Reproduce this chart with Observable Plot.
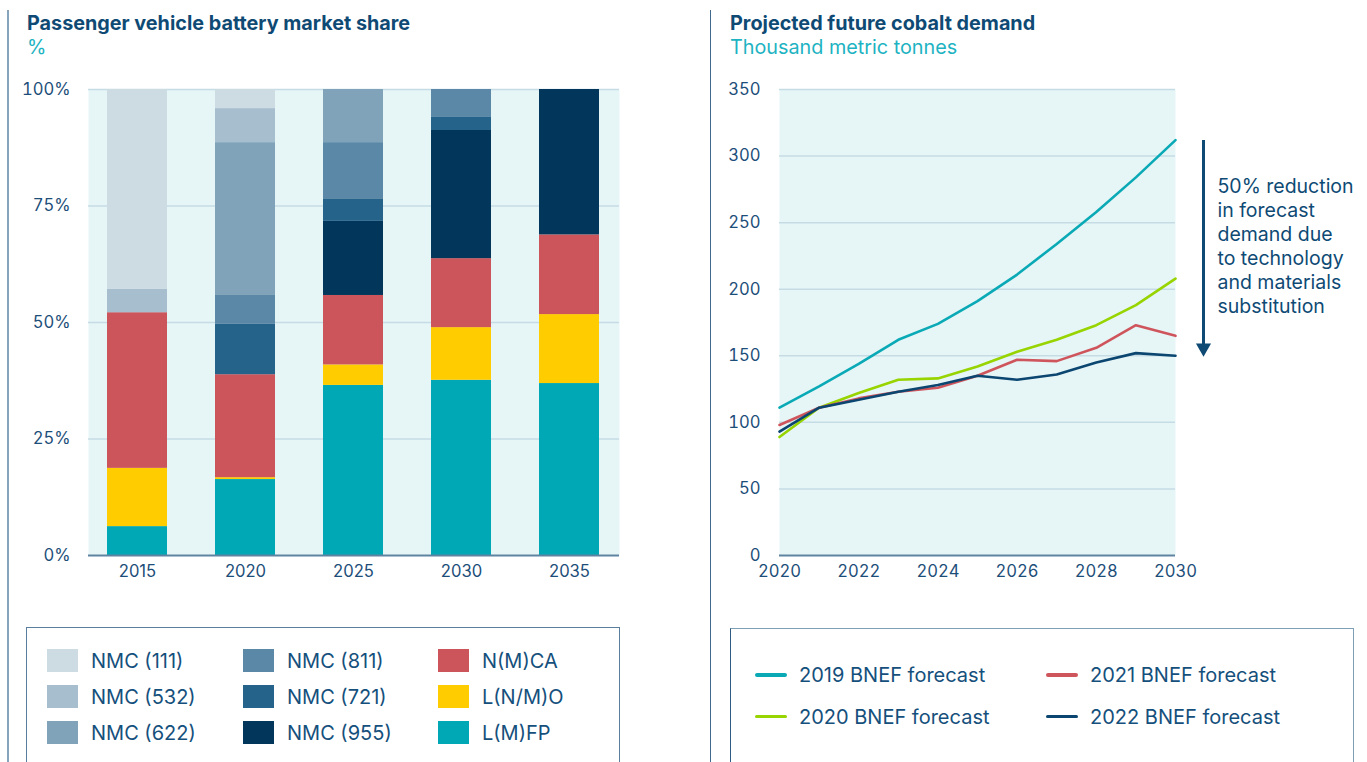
<!DOCTYPE html>
<html>
<head>
<meta charset="utf-8">
<script src="https://cdn.jsdelivr.net/npm/d3@7"></script>
<script src="https://cdn.jsdelivr.net/npm/@observablehq/plot@0.6"></script>
<style>
  html, body { margin: 0; padding: 0; background: #ffffff; }
  #root { position: relative; width: 1367px; height: 762px; overflow: hidden; font-family: Inter, "Noto Sans", sans-serif; color: #0f4a74; }
  .vline { position: absolute; top: 10px; bottom: 0; }
  .title { position: absolute; font-size: 19.8px; line-height: 24px; white-space: nowrap; }
  .title b { font-weight: 700; color: #0f4a74; display: block; }
  .title span { color: #1db3c2; display: block; }
  .chart { position: absolute; top: 70px; }
  .legendbox { position: absolute; height: 200px; box-sizing: border-box; }
  .item { position: absolute; font-size: 20px; line-height: 24px; color: #15507c; white-space: nowrap; }
  .sw { position: absolute; }
</style>
</head>
<body>
<div id="root">
  <div class="vline" style="left:7px; width:2px; background:#86a5bc;"></div>
  <div class="vline" style="left:710px; width:1px; background:#3f6a8d;"></div>
  <div class="title" style="left:27px; top:11.3px;"><b>Passenger vehicle battery market share</b><span>%</span></div>
  <div class="title" style="left:730px; top:11.3px;"><b>Projected future cobalt demand</b><span>Thousand metric tonnes</span></div>
  <div id="left" class="chart" style="left:0px;"></div>
  <div id="right" class="chart" style="left:710px;"></div>
  <div class="legendbox" style="left:26px; top:627px; width:594px; border:1.5px solid #5a7f9e;"></div>
  <div class="legendbox" style="left:730px; top:628px; width:624px; border:1.5px solid #7f9fb7; border-left-color:#2d5b82;"></div>
  <div id="legends"></div>
</div>
<script>
// ---------- Data: battery market share (%) ----------
const years = ["2015", "2020", "2025", "2030", "2035"];
const chemistries = ["L(M)FP", "L(N/M)O", "N(M)CA", "NMC (955)", "NMC (721)", "NMC (811)", "NMC (622)", "NMC (532)", "NMC (111)"];
const lfp    = [6.2, 16.3, 36.5, 37.6, 36.9];
const lnmo   = [12.5, 0.4, 4.4, 11.3, 14.8];
const nca    = [33.4, 22.1, 14.9, 14.8, 17.1];
const nmc955 = [0, 0, 15.9, 27.5, 31.2];
const nmc721 = [0, 10.8, 4.7, 2.8, 0];
const nmc811 = [0, 6.2, 12.2, 6.0, 0];
const nmc622 = [0, 32.8, 11.4, 0, 0];
const nmc532 = [5.0, 7.3, 0, 0, 0];
const nmc111 = [42.9, 4.1, 0, 0, 0];
const chemColors = ["#00a8b5", "#ffcc00", "#cc545b", "#02365a", "#25638a", "#5a88a6", "#80a3b9", "#a7bece", "#cddbe3"];
const legendOrder = ["NMC (111)", "NMC (532)", "NMC (622)", "NMC (811)", "NMC (721)", "NMC (955)", "N(M)CA", "L(N/M)O", "L(M)FP"];

// ---------- Data: cobalt demand (thousand tonnes) ----------
const forecastYears = [2020, 2021, 2022, 2023, 2024, 2025, 2026, 2027, 2028, 2029, 2030];
const seriesNames = ["2019 BNEF forecast", "2020 BNEF forecast", "2021 BNEF forecast", "2022 BNEF forecast"];
const f2019 = [111, 127, 144, 162, 174, 191, 211, 234, 258, 284, 312];
const f2020 = [89, 111, 122, 132, 133, 142, 153, 162, 173, 188, 208];
const f2021 = [98, 111, 118, 123, 126, 135, 147, 146, 156, 173, 165];
const f2022 = [93, 111, 117, 123, 128, 135, 132, 136, 145, 152, 150];
const lineColors = ["#0aa9b6", "#97d400", "#cf555c", "#0b4671"];
const legendLineOrder = ["2019 BNEF forecast", "2020 BNEF forecast", "2021 BNEF forecast", "2022 BNEF forecast"];
const annotation = "50% reduction\nin forecast\ndemand due\nto technology\nand materials\nsubstitution";

// ---------- Build tables ----------
const chemValues = [lfp, lnmo, nca, nmc955, nmc721, nmc811, nmc622, nmc532, nmc111];
const barData = [];
chemistries.forEach((c, i) => years.forEach((y, j) => barData.push({year: y, chem: c, share: chemValues[i][j]})));
const seriesValues = [f2019, f2020, f2021, f2022];
const lineData = [];
seriesNames.forEach((s, i) => forecastYears.forEach((y, j) => lineData.push({year: y, series: s, value: seriesValues[i][j]})));

const axisStyle = {fontFamily: "Inter, 'Noto Sans', sans-serif", fontSize: "16.6px", color: "#1c4e79", background: "transparent", overflow: "visible"};

const left = Plot.plot({
  width: 700, height: 530,
  marginLeft: 88, marginRight: 81, marginTop: 19, marginBottom: 45,
  style: axisStyle,
  x: {domain: years, paddingInner: 0.44, paddingOuter: 0.157, label: null},
  y: {domain: [0, 100], label: null},
  color: {domain: chemistries, range: chemColors},
  marks: [
    Plot.frame({fill: "#e6f6f7", stroke: null}),
    Plot.gridY([25, 50, 75, 100], {stroke: "#c5dce5", strokeOpacity: 1, strokeWidth: 1.5}),
    Plot.barY(barData, {x: "year", y: "share", fill: "chem", order: chemistries}),
    Plot.ruleY([0], {stroke: "#5e84a2", strokeWidth: 2}),
    Plot.axisY({ticks: [0, 25, 50, 75, 100], tickFormat: d => d + "%", tickSize: 0, tickPadding: 18, label: null}),
    Plot.axisX({tickSize: 0, tickPadding: 10, label: null})
  ]
});
document.getElementById("left").appendChild(left);

const right = Plot.plot({
  width: 657, height: 530,
  marginLeft: 69, marginRight: 192, marginTop: 19, marginBottom: 45,
  style: axisStyle,
  x: {domain: [2020, 2030], label: null},
  y: {domain: [0, 350], label: null},
  color: {domain: seriesNames, range: lineColors},
  marks: [
    Plot.frame({fill: "#e6f6f7", stroke: null}),
    Plot.gridY([50, 100, 150, 200, 250, 300, 350], {stroke: "#c5dce5", strokeOpacity: 1, strokeWidth: 1.5}),
    Plot.ruleY([0], {stroke: "#5e84a2", strokeWidth: 2}),
    Plot.line(lineData, {x: "year", y: "value", z: "series", stroke: "series", strokeWidth: 2.6, strokeLinejoin: "miter"}),
    Plot.ruleX([2030.707], {y1: 311.7, y2: 158, stroke: "#0e4a74", strokeWidth: 3}),
    Plot.dot([2030.707], {x: d => d, y: 155.9, symbol: "triangle", r: 5.6, rotate: 180, fill: "#0e4a74", stroke: null}),
    Plot.text([annotation], {x: 2031.06, y: 285.3, text: d => d, textAnchor: "start", lineAnchor: "top", lineHeight: 24 / 19.5, fontSize: 19.5, fill: "#0e4a74"}),
    Plot.axisY({ticks: [0, 50, 100, 150, 200, 250, 300, 350], tickSize: 0, tickPadding: 19, label: null}),
    Plot.axisX({ticks: [2020, 2022, 2024, 2026, 2028, 2030], tickFormat: d => String(d), tickSize: 0, tickPadding: 10, label: null})
  ]
});
document.getElementById("right").appendChild(right);

// ---------- Legends ----------
const leg = document.getElementById("legends");
const colX = [47, 243, 438], rowY = [649, 685, 721];
legendOrder.forEach((name, k) => {
  const col = Math.floor(k / 3), row = k % 3;
  const sw = document.createElement("div");
  sw.className = "sw";
  Object.assign(sw.style, {left: colX[col] + "px", top: rowY[row] + "px", width: "31px", height: "23px", background: chemColors[chemistries.indexOf(name)]});
  leg.appendChild(sw);
  const t = document.createElement("div");
  t.className = "item";
  t.textContent = name;
  Object.assign(t.style, {left: (colX[col] + 44) + "px", top: (rowY[row] - 0.5) + "px"});
  leg.appendChild(t);
});
const lcolX = [755, 1046], lrowY = [675, 716.5];
legendLineOrder.forEach((name, k) => {
  const col = Math.floor(k / 2), row = k % 2;
  const sw = document.createElement("div");
  sw.className = "sw";
  Object.assign(sw.style, {left: lcolX[col] + "px", top: (lrowY[row] - 1.75) + "px", width: "32px", height: "3.5px", borderRadius: "2px", background: lineColors[seriesNames.indexOf(name)]});
  leg.appendChild(sw);
  const t = document.createElement("div");
  t.className = "item";
  t.textContent = name;
  Object.assign(t.style, {left: (lcolX[col] + 44) + "px", top: (lrowY[row] - 12) + "px"});
  leg.appendChild(t);
});
</script>
</body>
</html>
